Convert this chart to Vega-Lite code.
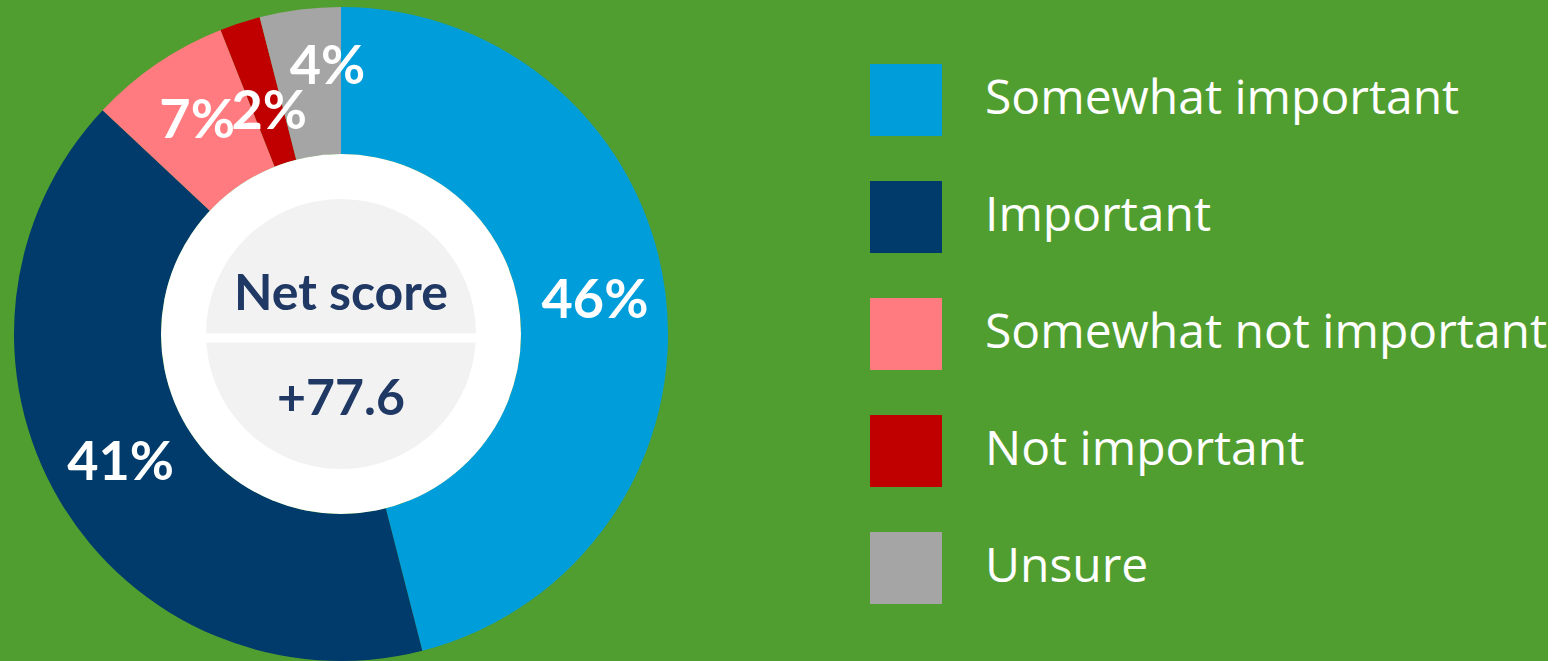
{
  "$schema": "https://vega.github.io/schema/vega-lite/v6.json",
  "width": 682,
  "height": 668,
  "padding": 0,
  "autosize": {"type": "pad"},
  "background": "#519e30",
  "config": {"view": {"stroke": null}},
  "data": {
    "values": [
      {"category": "Somewhat important", "share": 46, "rank": 1, "label": "46%"},
      {"category": "Important", "share": 41, "rank": 2, "label": "41%"},
      {"category": "Somewhat not important", "share": 7, "rank": 3, "label": "7%"},
      {"category": "Not important", "share": 2, "rank": 4, "label": "2%"},
      {"category": "Unsure", "share": 4, "rank": 5, "label": "4%"}
    ]
  },
  "layer": [
    {
      "mark": {"type": "arc", "outerRadius": 327, "innerRadius": 180, "stroke": null},
      "encoding": {
        "theta": {"field": "share", "type": "quantitative", "stack": true},
        "order": {"field": "rank", "type": "quantitative"},
        "color": {
          "field": "category",
          "type": "nominal",
          "scale": {
            "domain": ["Somewhat important", "Important", "Somewhat not important", "Not important", "Unsure"],
            "range": ["#009ddb", "#003b6b", "#ff7b7f", "#c00000", "#a5a5a5"]
          },
          "legend": {
            "orient": "none",
            "legendX": 870,
            "legendY": 64,
            "title": null,
            "symbolType": "square",
            "symbolSize": 5184,
            "symbolStrokeWidth": 0,
            "symbolOpacity": 1,
            "labelFont": "Open Sans",
            "labelFontSize": 48,
            "labelColor": "white",
            "labelOffset": 43,
            "rowPadding": 45,
            "padding": 0,
            "labelLimit": 1000
          }
        }
      }
    },
    {
      "mark": {"type": "text", "radius": 256, "font": "Lato", "fontWeight": "bold", "fontSize": 54, "fill": "white", "align": "center", "baseline": "middle"},
      "encoding": {
        "theta": {"field": "share", "type": "quantitative", "stack": true},
        "order": {"field": "rank", "type": "quantitative"},
        "text": {"condition": {"test": "datum.rank <= 3", "field": "label"}, "value": ""}
      }
    },
    {
      "mark": {"type": "text", "radius": 232, "font": "Lato", "fontWeight": "bold", "fontSize": 54, "fill": "white", "align": "center", "baseline": "middle"},
      "encoding": {
        "theta": {"field": "share", "type": "quantitative", "stack": true},
        "order": {"field": "rank", "type": "quantitative"},
        "text": {"condition": {"test": "datum.rank == 4", "field": "label"}, "value": ""}
      }
    },
    {
      "mark": {"type": "text", "radius": 268, "dx": 20, "font": "Lato", "fontWeight": "bold", "fontSize": 54, "fill": "white", "align": "center", "baseline": "middle"},
      "encoding": {
        "theta": {"field": "share", "type": "quantitative", "stack": true},
        "order": {"field": "rank", "type": "quantitative"},
        "text": {"condition": {"test": "datum.rank == 5", "field": "label"}, "value": ""}
      }
    },
    {
      "data": {"values": [{"item": "center"}]},
      "layer": [
        {"mark": {"type": "arc", "theta": 0, "theta2": 6.2832, "outerRadius": 180, "fill": "white"}, "encoding": {}},
        {"mark": {"type": "arc", "theta": 0, "theta2": 6.2832, "outerRadius": 135, "fill": "#f2f2f2"}, "encoding": {}},
        {"mark": {"type": "point", "shape": "M-1,0.03H1", "size": 72900, "stroke": "white", "strokeWidth": 9, "filled": false, "opacity": 1}, "encoding": {}},
        {"mark": {"type": "text", "text": "Net score", "font": "Lato", "fontWeight": "bold", "fontSize": 50, "fill": "#1f3864", "align": "center", "baseline": "alphabetic", "dy": -24}, "encoding": {}},
        {"mark": {"type": "text", "text": "+77.6", "font": "Lato", "fontWeight": "bold", "fontSize": 50, "fill": "#1f3864", "align": "center", "baseline": "alphabetic", "dy": 81}, "encoding": {}}
      ]
    }
  ]
}
